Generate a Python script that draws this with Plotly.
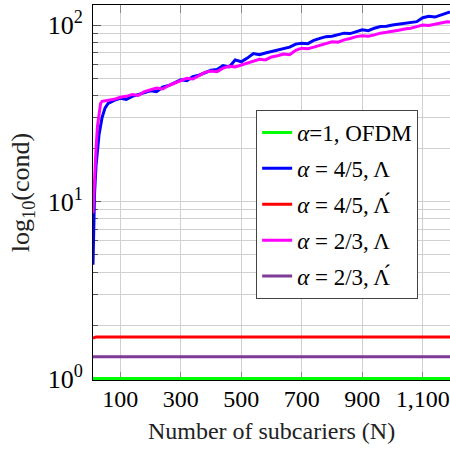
import plotly.graph_objects as go

# Number of subcarriers for the two growing curves
n_tail = list(range(100, 1181, 20)) + [1190]
n_blue = [10, 15, 20, 30, 40, 50, 60, 80] + n_tail
n_mag = [10, 15, 20, 25, 30, 35, 40, 60, 80] + n_tail

# alpha = 4/5, Lambda
cond_blue = [4.4, 11, 16, 24, 30, 34, 36, 37.5,
             38.5, 38, 39.5, 40.5, 41.5, 42.5, 42, 44.5, 45.5, 47,
             49, 48.5, 51, 52, 53.5, 55.5, 56, 59, 58, 63.5,
             62, 65, 69, 68, 69.5, 71, 72, 73.5, 75, 78,
             79, 78.5, 82, 84, 86, 86.5, 88, 90, 89.5, 92,
             94, 93, 96, 98, 98.5, 100, 101, 103, 104, 104.5,
             110, 112, 111, 114, 118, 118.5]

# alpha = 2/3, Lambda
cond_mag = [8.6, 15, 20, 27, 32, 36, 37, 37.5, 38,
            39, 39.5, 40.5, 40, 42, 43, 44, 43.5, 45.5, 47,
            48.5, 50, 49.5, 52, 54, 55, 54.5, 57, 58.5, 58,
            59.5, 61, 62.5, 64, 63.5, 66, 67, 68.5, 68, 72,
            74, 73.5, 75, 77, 79, 80.5, 80, 82.5, 84, 86,
            87, 86.5, 88, 90, 91, 92, 93.5, 95, 96, 98,
            100, 99.5, 101, 103, 104.5, 104]

# flat curves
n_flat = [10, 14, 20, 1190]
cond_ofdm = [1.0, 1.0, 1.0, 1.0]
cond_red = [1.69, 1.71, 1.72, 1.72]
cond_purple = [1.327, 1.327, 1.327, 1.327]

x_ticks = [100, 300, 500, 700, 900, 1100]
x_tick_text = ["100", "300", "500", "700", "900", "1,100"]
y_ticks = [1, 10, 100]
y_tick_text = ["10<sup>0</sup>", "10<sup>1</sup>", "10<sup>2</sup>"]
y_minor = [2, 3, 4, 5, 6, 7, 8, 9, 20, 30, 40, 50, 60, 70, 80, 90]

FONT = "Liberation Serif"

series = [
    ("<i>α</i>=1, OFDM", n_flat, cond_ofdm, "#00ff00"),
    ("<i>α</i> = 4/5, Λ", n_blue, cond_blue, "#0000ff"),
    ("<i>α</i> = 4/5, Λ́", n_flat, cond_red, "#ff0000"),
    ("<i>α</i> = 2/3, Λ", n_mag, cond_mag, "#ff00ff"),
    ("<i>α</i> = 2/3, Λ́", n_flat, cond_purple, "#7f3a96"),
]

fig = go.Figure()
for i, (name, xs, ys, color) in enumerate(series):
    fig.add_trace(go.Scatter(
        x=xs, y=ys, name=name, mode="lines", legendgroup=f"g{i}",
        line=dict(color=color, width=3),
    ))

fig.update_layout(
    width=450, height=450,
    margin=dict(l=93, r=0, t=5, b=70),
    paper_bgcolor="white", plot_bgcolor="white",
    font=dict(family=FONT, size=23, color="black"),
    showlegend=True,
    legend=dict(
        x=0.457, y=0.72, xanchor="left", yanchor="top",
        bgcolor="white", bordercolor="#444", borderwidth=1,
        font=dict(family=FONT, size=23, color="black"),
        tracegroupgap=3,
    ),
)

fig.update_xaxes(
    range=[10, 1190],
    tickvals=x_ticks, ticktext=x_tick_text,
    tickfont=dict(family=FONT, size=24, color="black"),
    ticklabeloverflow="allow",
    ticks="inside", ticklen=8, tickcolor="#888", tickwidth=1,
    showline=True, linecolor="black", linewidth=1, mirror="ticks",
    layer="below traces",
    showgrid=True, gridcolor="#d0d0d0", gridwidth=1,
    zeroline=False,
    ticklabelstandoff=-3,
    title=dict(text="Number of subcariers (N)",
               font=dict(family=FONT, size=24, color="#222"), standoff=11),
)

fig.update_yaxes(
    type="log",
    range=[-0.0085, 2.1135],
    tickvals=y_ticks, ticktext=y_tick_text,
    tickfont=dict(family=FONT, size=26, color="black"),
    ticks="inside", ticklen=8, tickcolor="#555", tickwidth=1,
    showline=True, linecolor="black", linewidth=1,
    layer="below traces",
    showgrid=True, gridcolor="#d0d0d0", gridwidth=1,
    zeroline=False,
    ticklabelstandoff=4,
    minor=dict(tickvals=y_minor, ticks="inside", ticklen=5,
               tickcolor="#555", showgrid=True, gridcolor="#d0d0d0",
               gridwidth=1),
    title=dict(text="log<sub>10</sub>(cond)",
               font=dict(family=FONT, size=26, color="#222"), standoff=10),
)

fig.write_html("out.html")
